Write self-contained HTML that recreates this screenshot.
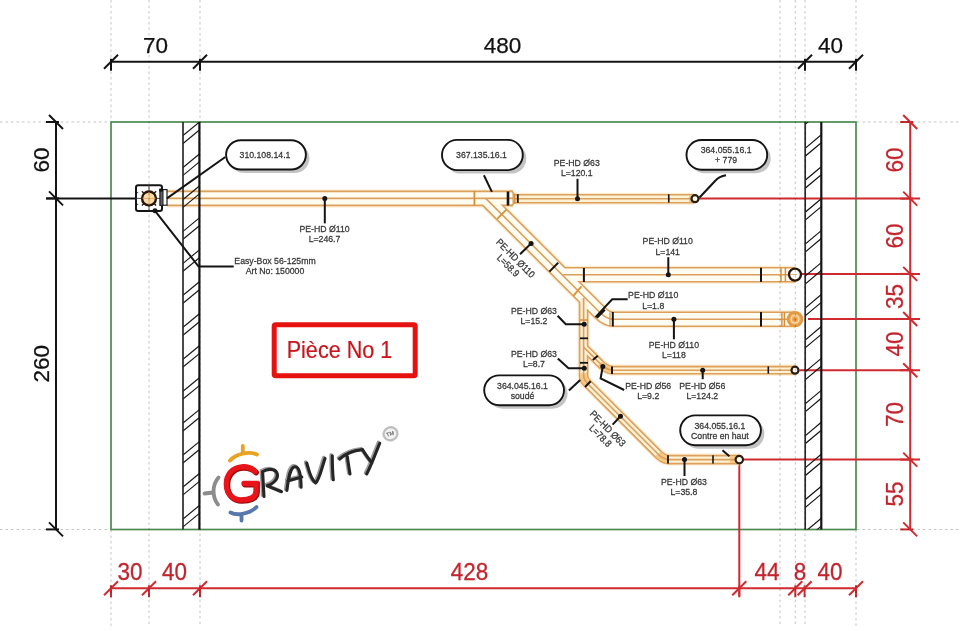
<!DOCTYPE html>
<html><head><meta charset="utf-8"><style>
html,body{margin:0;padding:0;background:#fff;width:960px;height:631px;overflow:hidden}
svg{display:block;will-change:transform;font-family:"Liberation Sans",sans-serif}
</style></head><body>
<svg width="960" height="631" viewBox="0 0 960 631">
<rect x="111" y="122" width="745" height="407.5" fill="none" stroke="#4a8a50" stroke-width="1.7"/>
<line x1="111" y1="61.7" x2="856" y2="61.7" stroke="#141414" stroke-width="2"/>
<line x1="104" y1="68.7" x2="118" y2="54.7" stroke="#141414" stroke-width="2"/>
<line x1="111" y1="58.7" x2="111" y2="70.7" stroke="#141414" stroke-width="2"/>
<line x1="193" y1="68.7" x2="207" y2="54.7" stroke="#141414" stroke-width="2"/>
<line x1="200" y1="58.7" x2="200" y2="70.7" stroke="#141414" stroke-width="2"/>
<line x1="798" y1="68.7" x2="812" y2="54.7" stroke="#141414" stroke-width="2"/>
<line x1="805" y1="58.7" x2="805" y2="70.7" stroke="#141414" stroke-width="2"/>
<line x1="849" y1="68.7" x2="863" y2="54.7" stroke="#141414" stroke-width="2"/>
<line x1="856" y1="58.7" x2="856" y2="70.7" stroke="#141414" stroke-width="2"/>
<text transform="translate(155.5,53.3) scale(1,1.0)" font-size="22.5" fill="#111" stroke="#111" stroke-width="0.25" text-anchor="middle">70</text>
<text transform="translate(502.5,53.3) scale(1,1.0)" font-size="22.5" fill="#111" stroke="#111" stroke-width="0.25" text-anchor="middle">480</text>
<text transform="translate(830.5,53.3) scale(1,1.0)" font-size="22.5" fill="#111" stroke="#111" stroke-width="0.25" text-anchor="middle">40</text>
<line x1="56" y1="122" x2="56" y2="529.4" stroke="#141414" stroke-width="2"/>
<line x1="49" y1="115" x2="63" y2="129" stroke="#141414" stroke-width="2"/>
<line x1="46" y1="122" x2="59" y2="122" stroke="#141414" stroke-width="2"/>
<line x1="49" y1="191.4" x2="63" y2="205.4" stroke="#141414" stroke-width="2"/>
<line x1="46" y1="198.4" x2="59" y2="198.4" stroke="#141414" stroke-width="2"/>
<line x1="49" y1="522.4" x2="63" y2="536.4" stroke="#141414" stroke-width="2"/>
<line x1="46" y1="529.4" x2="59" y2="529.4" stroke="#141414" stroke-width="2"/>
<text transform="translate(49.3,160) rotate(-90) scale(1,1.0)" font-size="22.5" fill="#111" stroke="#111" stroke-width="0.25" text-anchor="middle">60</text>
<text transform="translate(49.3,363.7) rotate(-90) scale(1,1.0)" font-size="22.5" fill="#111" stroke="#111" stroke-width="0.25" text-anchor="middle">260</text>
<line x1="46" y1="198.4" x2="135" y2="198.4" stroke="#141414" stroke-width="2"/>
<line x1="910.2" y1="122" x2="910.2" y2="529.4" stroke="#d02a31" stroke-width="2"/>
<line x1="903.2" y1="115" x2="917.2" y2="129" stroke="#d02a31" stroke-width="2"/>
<line x1="900.2" y1="122" x2="913.2" y2="122" stroke="#d02a31" stroke-width="2"/>
<line x1="903.2" y1="191.6" x2="917.2" y2="205.6" stroke="#d02a31" stroke-width="2"/>
<line x1="900.2" y1="198.6" x2="913.2" y2="198.6" stroke="#d02a31" stroke-width="2"/>
<line x1="903.2" y1="266.9" x2="917.2" y2="280.9" stroke="#d02a31" stroke-width="2"/>
<line x1="900.2" y1="273.9" x2="913.2" y2="273.9" stroke="#d02a31" stroke-width="2"/>
<line x1="903.2" y1="312" x2="917.2" y2="326" stroke="#d02a31" stroke-width="2"/>
<line x1="900.2" y1="319" x2="913.2" y2="319" stroke="#d02a31" stroke-width="2"/>
<line x1="903.2" y1="363.2" x2="917.2" y2="377.2" stroke="#d02a31" stroke-width="2"/>
<line x1="900.2" y1="370.2" x2="913.2" y2="370.2" stroke="#d02a31" stroke-width="2"/>
<line x1="903.2" y1="452.6" x2="917.2" y2="466.6" stroke="#d02a31" stroke-width="2"/>
<line x1="900.2" y1="459.6" x2="913.2" y2="459.6" stroke="#d02a31" stroke-width="2"/>
<line x1="903.2" y1="522.4" x2="917.2" y2="536.4" stroke="#d02a31" stroke-width="2"/>
<line x1="900.2" y1="529.4" x2="913.2" y2="529.4" stroke="#d02a31" stroke-width="2"/>
<text transform="translate(903,160) rotate(-90) scale(1,1.03)" font-size="22.5" fill="#c2242d" stroke="#c2242d" stroke-width="0.25" text-anchor="middle">60</text>
<text transform="translate(903,236) rotate(-90) scale(1,1.03)" font-size="22.5" fill="#c2242d" stroke="#c2242d" stroke-width="0.25" text-anchor="middle">60</text>
<text transform="translate(903,296.5) rotate(-90) scale(1,1.03)" font-size="22.5" fill="#c2242d" stroke="#c2242d" stroke-width="0.25" text-anchor="middle">35</text>
<text transform="translate(903,344) rotate(-90) scale(1,1.03)" font-size="22.5" fill="#c2242d" stroke="#c2242d" stroke-width="0.25" text-anchor="middle">40</text>
<text transform="translate(903,414.5) rotate(-90) scale(1,1.03)" font-size="22.5" fill="#c2242d" stroke="#c2242d" stroke-width="0.25" text-anchor="middle">70</text>
<text transform="translate(903,494) rotate(-90) scale(1,1.03)" font-size="22.5" fill="#c2242d" stroke="#c2242d" stroke-width="0.25" text-anchor="middle">55</text>
<line x1="111" y1="588.3" x2="856" y2="588.3" stroke="#d02a31" stroke-width="2"/>
<line x1="104" y1="595.3" x2="118" y2="581.3" stroke="#d02a31" stroke-width="2"/>
<line x1="111" y1="585.3" x2="111" y2="597.3" stroke="#d02a31" stroke-width="2"/>
<line x1="142" y1="595.3" x2="156" y2="581.3" stroke="#d02a31" stroke-width="2"/>
<line x1="149" y1="585.3" x2="149" y2="597.3" stroke="#d02a31" stroke-width="2"/>
<line x1="193" y1="595.3" x2="207" y2="581.3" stroke="#d02a31" stroke-width="2"/>
<line x1="200" y1="585.3" x2="200" y2="597.3" stroke="#d02a31" stroke-width="2"/>
<line x1="732.3" y1="595.3" x2="746.3" y2="581.3" stroke="#d02a31" stroke-width="2"/>
<line x1="739.3" y1="585.3" x2="739.3" y2="597.3" stroke="#d02a31" stroke-width="2"/>
<line x1="788.3" y1="595.3" x2="802.3" y2="581.3" stroke="#d02a31" stroke-width="2"/>
<line x1="795.3" y1="585.3" x2="795.3" y2="597.3" stroke="#d02a31" stroke-width="2"/>
<line x1="797.6" y1="595.3" x2="811.6" y2="581.3" stroke="#d02a31" stroke-width="2"/>
<line x1="804.6" y1="585.3" x2="804.6" y2="597.3" stroke="#d02a31" stroke-width="2"/>
<line x1="849" y1="595.3" x2="863" y2="581.3" stroke="#d02a31" stroke-width="2"/>
<line x1="856" y1="585.3" x2="856" y2="597.3" stroke="#d02a31" stroke-width="2"/>
<text transform="translate(130,580) scale(1,1.03)" font-size="22.5" fill="#c2242d" stroke="#c2242d" stroke-width="0.25" text-anchor="middle">30</text>
<text transform="translate(174.5,580) scale(1,1.03)" font-size="22.5" fill="#c2242d" stroke="#c2242d" stroke-width="0.25" text-anchor="middle">40</text>
<text transform="translate(469.5,580) scale(1,1.03)" font-size="22.5" fill="#c2242d" stroke="#c2242d" stroke-width="0.25" text-anchor="middle">428</text>
<text transform="translate(767,580) scale(1,1.03)" font-size="22.5" fill="#c2242d" stroke="#c2242d" stroke-width="0.25" text-anchor="middle">44</text>
<text transform="translate(800,580) scale(1,1.03)" font-size="22.5" fill="#c2242d" stroke="#c2242d" stroke-width="0.25" text-anchor="middle">8</text>
<text transform="translate(830,580) scale(1,1.03)" font-size="22.5" fill="#c2242d" stroke="#c2242d" stroke-width="0.25" text-anchor="middle">40</text>
<line x1="699" y1="198.6" x2="920" y2="198.6" stroke="#d02a31" stroke-width="2"/>
<line x1="802" y1="273.9" x2="920" y2="273.9" stroke="#d02a31" stroke-width="2"/>
<line x1="808" y1="319" x2="920" y2="319" stroke="#d02a31" stroke-width="2"/>
<line x1="799.5" y1="370.2" x2="920" y2="370.2" stroke="#d02a31" stroke-width="2"/>
<line x1="743.5" y1="459.6" x2="920" y2="459.6" stroke="#d02a31" stroke-width="2"/>
<line x1="739.3" y1="464" x2="739.3" y2="596" stroke="#d02a31" stroke-width="2"/>
<path d="M167,198.4 H513" fill="none" stroke="#fdecd2" stroke-width="18" stroke-linejoin="round"/>
<path d="M513,198.7 H694" fill="none" stroke="#fdecd2" stroke-width="12.0" stroke-linejoin="round"/>
<path d="M485.7,198.4 L599.8,312.5 Q606.5,319 613,319.2 H795" fill="none" stroke="#fdecd2" stroke-width="18" stroke-linejoin="round"/>
<path d="M562,274.8 H795" fill="none" stroke="#fdecd2" stroke-width="18" stroke-linejoin="round"/>
<path d="M583.6,298 V376 Q583.6,379.5 587,383 L657,453 Q662,458.6 668,459.6 H739.3" fill="none" stroke="#fdecd2" stroke-width="12.0" stroke-linejoin="round"/>
<path d="M583.6,347.1 L600,363.4 Q605,369 612,370.2 H795" fill="none" stroke="#fdecd2" stroke-width="11.2" stroke-linejoin="round"/>
<path d="M167,198.4 H513" fill="none" stroke="#daa05c" stroke-width="15.6" stroke-linejoin="round"/>
<path d="M513,198.7 H694" fill="none" stroke="#daa05c" stroke-width="9.6" stroke-linejoin="round"/>
<path d="M485.7,198.4 L599.8,312.5 Q606.5,319 613,319.2 H795" fill="none" stroke="#daa05c" stroke-width="15.6" stroke-linejoin="round"/>
<path d="M562,274.8 H795" fill="none" stroke="#daa05c" stroke-width="15.6" stroke-linejoin="round"/>
<path d="M583.6,298 V376 Q583.6,379.5 587,383 L657,453 Q662,458.6 668,459.6 H739.3" fill="none" stroke="#daa05c" stroke-width="9.6" stroke-linejoin="round"/>
<path d="M583.6,347.1 L600,363.4 Q605,369 612,370.2 H795" fill="none" stroke="#daa05c" stroke-width="8.8" stroke-linejoin="round"/>
<path d="M167,198.4 H513" fill="none" stroke="#fffcf1" stroke-width="12.4" stroke-linejoin="round"/>
<path d="M513,198.7 H694" fill="none" stroke="#fdf1d6" stroke-width="6.4" stroke-linejoin="round"/>
<path d="M485.7,198.4 L599.8,312.5 Q606.5,319 613,319.2 H795" fill="none" stroke="#fffcf1" stroke-width="12.4" stroke-linejoin="round"/>
<path d="M562,274.8 H795" fill="none" stroke="#fffcf1" stroke-width="12.4" stroke-linejoin="round"/>
<path d="M583.6,298 V376 Q583.6,379.5 587,383 L657,453 Q662,458.6 668,459.6 H739.3" fill="none" stroke="#fdf1d6" stroke-width="6.4" stroke-linejoin="round"/>
<path d="M583.6,347.1 L600,363.4 Q605,369 612,370.2 H795" fill="none" stroke="#fdf1d6" stroke-width="5.6" stroke-linejoin="round"/>
<path d="M583.6,373.2 V377 Q583.6,380 587,383.5 L588.5,385" fill="none" stroke="#f6c783" stroke-width="6.8" stroke-linejoin="round"/>
<path d="M657.9,454 Q662,458.6 668.3,459.6" fill="none" stroke="#f6c783" stroke-width="6.8" stroke-linejoin="round"/>
<path d="M600,363.4 Q605,369 612.4,370.2" fill="none" stroke="#f6c783" stroke-width="6.0" stroke-linejoin="round"/>
<path d="M689,198.7 H694" fill="none" stroke="#f6c783" stroke-width="6.8" stroke-linejoin="round"/>
<path d="M730,459.6 H737" fill="none" stroke="#f6c783" stroke-width="6.8" stroke-linejoin="round"/>
<path d="M167,198.4 H513" fill="none" stroke="#daa05c" stroke-width="1.6" stroke-linejoin="round"/>
<path d="M513,198.7 H694" fill="none" stroke="#daa05c" stroke-width="1.6" stroke-linejoin="round"/>
<path d="M485.7,198.4 L599.8,312.5 Q606.5,319 613,319.2 H795" fill="none" stroke="#daa05c" stroke-width="1.6" stroke-linejoin="round"/>
<path d="M562,274.8 H795" fill="none" stroke="#daa05c" stroke-width="1.6" stroke-linejoin="round"/>
<path d="M583.6,298 V376 Q583.6,379.5 587,383 L657,453 Q662,458.6 668,459.6 H739.3" fill="none" stroke="#daa05c" stroke-width="1.6" stroke-linejoin="round"/>
<path d="M583.6,347.1 L600,363.4 Q605,369 612,370.2 H795" fill="none" stroke="#daa05c" stroke-width="1.6" stroke-linejoin="round"/>
<line x1="508" y1="191.5" x2="508" y2="205.5" stroke="#141414" stroke-width="2.6"/>
<line x1="517.8" y1="194.2" x2="517.8" y2="202.8" stroke="#2a1a08" stroke-width="1.9"/>
<line x1="668.75" y1="194.3" x2="668.75" y2="202.5" stroke="#141414" stroke-width="1.6"/>
<line x1="549.4" y1="271.6" x2="558.2" y2="262.7" stroke="#141414" stroke-width="2"/>
<line x1="583.9" y1="268" x2="583.9" y2="282" stroke="#141414" stroke-width="2"/>
<line x1="761" y1="267.8" x2="761" y2="282" stroke="#141414" stroke-width="2"/>
<line x1="612.8" y1="312" x2="612.8" y2="326.4" stroke="#141414" stroke-width="2"/>
<line x1="761" y1="312" x2="761" y2="326.5" stroke="#141414" stroke-width="2"/>
<line x1="596.6" y1="317.5" x2="604.6" y2="309.5" stroke="#141414" stroke-width="3"/>
<line x1="580" y1="338.3" x2="588" y2="338.3" stroke="#141414" stroke-width="1.8"/>
<line x1="580" y1="362.8" x2="588" y2="362.8" stroke="#141414" stroke-width="1.8"/>
<line x1="585" y1="387" x2="590.7" y2="381.3" stroke="#141414" stroke-width="2"/>
<line x1="612" y1="366.4" x2="612" y2="374" stroke="#141414" stroke-width="2"/>
<line x1="768.3" y1="366.4" x2="768.3" y2="373.6" stroke="#141414" stroke-width="1.6"/>
<line x1="592.8" y1="360" x2="597.8" y2="355.7" stroke="#141414" stroke-width="2"/>
<line x1="668" y1="455.2" x2="668" y2="463.4" stroke="#141414" stroke-width="1.8"/>
<line x1="713" y1="455.2" x2="713" y2="463.4" stroke="#141414" stroke-width="1.6"/>
<line x1="474.4" y1="191" x2="474.4" y2="205.5" stroke="#d9903a" stroke-width="1.8"/>
<path d="M509.6,191.2 H511 Q513.3,191.2 513.3,194 V202.7 Q513.3,205.5 511,205.5 H509.6" fill="none" stroke="#daa05c" stroke-width="1.6"/>
<line x1="514.8" y1="193.6" x2="514.8" y2="203.8" stroke="#d9903a" stroke-width="1.5"/>
<line x1="497.2" y1="218.8" x2="506.6" y2="209.4" stroke="#d9903a" stroke-width="1.8"/>
<line x1="573.5" y1="295.6" x2="581.4" y2="286.4" stroke="#d9903a" stroke-width="1.8"/>
<line x1="781" y1="267.8" x2="781" y2="282" stroke="#d9903a" stroke-width="1.5"/>
<line x1="785.4" y1="267.8" x2="785.4" y2="282" stroke="#d9903a" stroke-width="1.5"/>
<line x1="781.9" y1="312" x2="781.9" y2="326.4" stroke="#d9903a" stroke-width="1.5"/>
<line x1="784.4" y1="312" x2="784.4" y2="326.4" stroke="#d9903a" stroke-width="1.5"/>
<line x1="580" y1="320" x2="588" y2="320" stroke="#d9903a" stroke-width="1.5"/>
<line x1="610" y1="312.2" x2="610" y2="326.2" stroke="#d9903a" stroke-width="1.2"/>
<circle cx="695" cy="198.7" r="3.5" fill="#fffcf1" stroke="#2a1d10" stroke-width="2.2"/>
<circle cx="795" cy="274.6" r="6" fill="#fffdf8" stroke="#24160a" stroke-width="2.3"/>
<line x1="790" y1="274.5" x2="797" y2="274.5" stroke="#daa05c" stroke-width="0.8"/>
<circle cx="795" cy="319.2" r="7" fill="#f0b060" stroke="#e39a45" stroke-width="2.6"/>
<circle cx="795" cy="319.2" r="4" fill="none" stroke="#fde6c4" stroke-width="1"/>
<circle cx="795" cy="319.2" r="1.6" fill="#e08a30"/>
<circle cx="795" cy="370.2" r="3.5" fill="#fffcf1" stroke="#2a1d10" stroke-width="2.2"/>
<circle cx="739.3" cy="459.6" r="3.7" fill="#fffcf1" stroke="#2a1d10" stroke-width="2.2"/>
<g>
<clipPath id="cw183"><rect x="183" y="122" width="16.400000000000006" height="407.5"/></clipPath>
<g clip-path="url(#cw183)">
<line x1="183" y1="-56.1" x2="199.4" y2="-69.6" stroke="#141414" stroke-width="1.15"/>
<line x1="183" y1="-48.2" x2="199.4" y2="-61.7" stroke="#141414" stroke-width="1.15"/>
<line x1="183" y1="-24.1" x2="199.4" y2="-37.6" stroke="#141414" stroke-width="1.15"/>
<line x1="183" y1="-16.2" x2="199.4" y2="-29.7" stroke="#141414" stroke-width="1.15"/>
<line x1="183" y1="7.8" x2="199.4" y2="-5.7" stroke="#141414" stroke-width="1.15"/>
<line x1="183" y1="15.7" x2="199.4" y2="2.2" stroke="#141414" stroke-width="1.15"/>
<line x1="183" y1="39.8" x2="199.4" y2="26.2" stroke="#141414" stroke-width="1.15"/>
<line x1="183" y1="47.6" x2="199.4" y2="34.1" stroke="#141414" stroke-width="1.15"/>
<line x1="183" y1="71.7" x2="199.4" y2="58.2" stroke="#141414" stroke-width="1.15"/>
<line x1="183" y1="79.6" x2="199.4" y2="66.1" stroke="#141414" stroke-width="1.15"/>
<line x1="183" y1="103.7" x2="199.4" y2="90.2" stroke="#141414" stroke-width="1.15"/>
<line x1="183" y1="111.6" x2="199.4" y2="98.1" stroke="#141414" stroke-width="1.15"/>
<line x1="183" y1="135.6" x2="199.4" y2="122.1" stroke="#141414" stroke-width="1.15"/>
<line x1="183" y1="143.5" x2="199.4" y2="130.0" stroke="#141414" stroke-width="1.15"/>
<line x1="183" y1="167.5" x2="199.4" y2="154.0" stroke="#141414" stroke-width="1.15"/>
<line x1="183" y1="175.4" x2="199.4" y2="161.9" stroke="#141414" stroke-width="1.15"/>
<line x1="183" y1="199.5" x2="199.4" y2="186.0" stroke="#141414" stroke-width="1.15"/>
<line x1="183" y1="207.4" x2="199.4" y2="193.9" stroke="#141414" stroke-width="1.15"/>
<line x1="183" y1="231.4" x2="199.4" y2="217.9" stroke="#141414" stroke-width="1.15"/>
<line x1="183" y1="239.3" x2="199.4" y2="225.8" stroke="#141414" stroke-width="1.15"/>
<line x1="183" y1="263.4" x2="199.4" y2="249.9" stroke="#141414" stroke-width="1.15"/>
<line x1="183" y1="271.3" x2="199.4" y2="257.8" stroke="#141414" stroke-width="1.15"/>
<line x1="183" y1="295.3" x2="199.4" y2="281.8" stroke="#141414" stroke-width="1.15"/>
<line x1="183" y1="303.2" x2="199.4" y2="289.7" stroke="#141414" stroke-width="1.15"/>
<line x1="183" y1="327.3" x2="199.4" y2="313.8" stroke="#141414" stroke-width="1.15"/>
<line x1="183" y1="335.2" x2="199.4" y2="321.7" stroke="#141414" stroke-width="1.15"/>
<line x1="183" y1="359.2" x2="199.4" y2="345.7" stroke="#141414" stroke-width="1.15"/>
<line x1="183" y1="367.1" x2="199.4" y2="353.6" stroke="#141414" stroke-width="1.15"/>
<line x1="183" y1="391.2" x2="199.4" y2="377.7" stroke="#141414" stroke-width="1.15"/>
<line x1="183" y1="399.1" x2="199.4" y2="385.6" stroke="#141414" stroke-width="1.15"/>
<line x1="183" y1="423.1" x2="199.4" y2="409.6" stroke="#141414" stroke-width="1.15"/>
<line x1="183" y1="431.0" x2="199.4" y2="417.5" stroke="#141414" stroke-width="1.15"/>
<line x1="183" y1="455.1" x2="199.4" y2="441.6" stroke="#141414" stroke-width="1.15"/>
<line x1="183" y1="463.0" x2="199.4" y2="449.5" stroke="#141414" stroke-width="1.15"/>
<line x1="183" y1="487.0" x2="199.4" y2="473.5" stroke="#141414" stroke-width="1.15"/>
<line x1="183" y1="494.9" x2="199.4" y2="481.4" stroke="#141414" stroke-width="1.15"/>
<line x1="183" y1="519.0" x2="199.4" y2="505.5" stroke="#141414" stroke-width="1.15"/>
<line x1="183" y1="526.9" x2="199.4" y2="513.4" stroke="#141414" stroke-width="1.15"/>
<line x1="183" y1="550.9" x2="199.4" y2="537.4" stroke="#141414" stroke-width="1.15"/>
<line x1="183" y1="558.8" x2="199.4" y2="545.3" stroke="#141414" stroke-width="1.15"/>
</g>
<line x1="183" y1="122" x2="183" y2="529.5" stroke="#2a2a2a" stroke-width="1.7"/>
<line x1="199.4" y1="122" x2="199.4" y2="529.5" stroke="#141414" stroke-width="2.2"/>
</g>
<g>
<clipPath id="cw805"><rect x="805.2" y="122" width="16.09999999999991" height="407.5"/></clipPath>
<g clip-path="url(#cw805)">
<line x1="805.2" y1="-43.4" x2="821.3" y2="-56.9" stroke="#141414" stroke-width="1.15"/>
<line x1="805.2" y1="-35.5" x2="821.3" y2="-49.0" stroke="#141414" stroke-width="1.15"/>
<line x1="805.2" y1="-11.4" x2="821.3" y2="-24.9" stroke="#141414" stroke-width="1.15"/>
<line x1="805.2" y1="-3.5" x2="821.3" y2="-17.0" stroke="#141414" stroke-width="1.15"/>
<line x1="805.2" y1="20.5" x2="821.3" y2="7.0" stroke="#141414" stroke-width="1.15"/>
<line x1="805.2" y1="28.4" x2="821.3" y2="14.9" stroke="#141414" stroke-width="1.15"/>
<line x1="805.2" y1="52.5" x2="821.3" y2="39.0" stroke="#141414" stroke-width="1.15"/>
<line x1="805.2" y1="60.4" x2="821.3" y2="46.9" stroke="#141414" stroke-width="1.15"/>
<line x1="805.2" y1="84.4" x2="821.3" y2="70.9" stroke="#141414" stroke-width="1.15"/>
<line x1="805.2" y1="92.3" x2="821.3" y2="78.8" stroke="#141414" stroke-width="1.15"/>
<line x1="805.2" y1="116.4" x2="821.3" y2="102.9" stroke="#141414" stroke-width="1.15"/>
<line x1="805.2" y1="124.3" x2="821.3" y2="110.8" stroke="#141414" stroke-width="1.15"/>
<line x1="805.2" y1="148.3" x2="821.3" y2="134.8" stroke="#141414" stroke-width="1.15"/>
<line x1="805.2" y1="156.2" x2="821.3" y2="142.7" stroke="#141414" stroke-width="1.15"/>
<line x1="805.2" y1="180.2" x2="821.3" y2="166.8" stroke="#141414" stroke-width="1.15"/>
<line x1="805.2" y1="188.2" x2="821.3" y2="174.7" stroke="#141414" stroke-width="1.15"/>
<line x1="805.2" y1="212.2" x2="821.3" y2="198.7" stroke="#141414" stroke-width="1.15"/>
<line x1="805.2" y1="220.1" x2="821.3" y2="206.6" stroke="#141414" stroke-width="1.15"/>
<line x1="805.2" y1="244.1" x2="821.3" y2="230.6" stroke="#141414" stroke-width="1.15"/>
<line x1="805.2" y1="252.0" x2="821.3" y2="238.5" stroke="#141414" stroke-width="1.15"/>
<line x1="805.2" y1="276.1" x2="821.3" y2="262.6" stroke="#141414" stroke-width="1.15"/>
<line x1="805.2" y1="284.0" x2="821.3" y2="270.5" stroke="#141414" stroke-width="1.15"/>
<line x1="805.2" y1="308.0" x2="821.3" y2="294.5" stroke="#141414" stroke-width="1.15"/>
<line x1="805.2" y1="315.9" x2="821.3" y2="302.4" stroke="#141414" stroke-width="1.15"/>
<line x1="805.2" y1="340.0" x2="821.3" y2="326.5" stroke="#141414" stroke-width="1.15"/>
<line x1="805.2" y1="347.9" x2="821.3" y2="334.4" stroke="#141414" stroke-width="1.15"/>
<line x1="805.2" y1="371.9" x2="821.3" y2="358.4" stroke="#141414" stroke-width="1.15"/>
<line x1="805.2" y1="379.8" x2="821.3" y2="366.3" stroke="#141414" stroke-width="1.15"/>
<line x1="805.2" y1="403.9" x2="821.3" y2="390.4" stroke="#141414" stroke-width="1.15"/>
<line x1="805.2" y1="411.8" x2="821.3" y2="398.3" stroke="#141414" stroke-width="1.15"/>
<line x1="805.2" y1="435.8" x2="821.3" y2="422.3" stroke="#141414" stroke-width="1.15"/>
<line x1="805.2" y1="443.7" x2="821.3" y2="430.2" stroke="#141414" stroke-width="1.15"/>
<line x1="805.2" y1="467.8" x2="821.3" y2="454.3" stroke="#141414" stroke-width="1.15"/>
<line x1="805.2" y1="475.7" x2="821.3" y2="462.2" stroke="#141414" stroke-width="1.15"/>
<line x1="805.2" y1="499.7" x2="821.3" y2="486.2" stroke="#141414" stroke-width="1.15"/>
<line x1="805.2" y1="507.6" x2="821.3" y2="494.1" stroke="#141414" stroke-width="1.15"/>
<line x1="805.2" y1="531.7" x2="821.3" y2="518.2" stroke="#141414" stroke-width="1.15"/>
<line x1="805.2" y1="539.6" x2="821.3" y2="526.1" stroke="#141414" stroke-width="1.15"/>
</g>
<line x1="805.2" y1="122" x2="805.2" y2="529.5" stroke="#2a2a2a" stroke-width="1.7"/>
<line x1="821.3" y1="122" x2="821.3" y2="529.5" stroke="#141414" stroke-width="2.2"/>
</g>
<rect x="136" y="185.2" width="26" height="25.8" rx="2.2" fill="#fff" stroke="#141414" stroke-width="2"/>
<line x1="149" y1="185" x2="149" y2="211" stroke="#333" stroke-width="0.9"/>
<line x1="136" y1="198.4" x2="160" y2="198.4" stroke="#333" stroke-width="0.9"/>
<line x1="153.95" y1="203.35" x2="156.07" y2="205.47" stroke="#2a1a0a" stroke-width="1.4"/>
<line x1="144.05" y1="203.35" x2="141.93" y2="205.47" stroke="#2a1a0a" stroke-width="1.4"/>
<line x1="144.05" y1="193.45" x2="141.93" y2="191.33" stroke="#2a1a0a" stroke-width="1.4"/>
<line x1="153.95" y1="193.45" x2="156.07" y2="191.33" stroke="#2a1a0a" stroke-width="1.4"/>
<line x1="137" y1="192.7" x2="138.2" y2="192.7" stroke="#333" stroke-width="1"/>
<line x1="137" y1="204.3" x2="138.2" y2="204.3" stroke="#333" stroke-width="1"/>
<circle cx="149" cy="198.4" r="6.9" fill="#fcdcab" stroke="#2a1508" stroke-width="2.4"/>
<line x1="149" y1="192" x2="149" y2="205" stroke="#eaa55a" stroke-width="0.9"/>
<line x1="142.5" y1="198.4" x2="155.5" y2="198.4" stroke="#eaa55a" stroke-width="0.9"/>
<rect x="160.2" y="189.6" width="6.8" height="15.6" fill="#fff" stroke="#141414" stroke-width="1.15"/>
<rect x="160" y="189.4" width="3" height="16" fill="#5d6270" stroke="#1a1a1a" stroke-width="1"/>
<rect x="159.3" y="188.6" width="3.6" height="3" fill="#111"/>
<polyline points="324.8,198.4 324.8,223.4" fill="none" stroke="#141414" stroke-width="2"/>
<circle cx="324.8" cy="198.4" r="2.5" fill="#141414"/>
<polyline points="577.5,198.7 577.5,178.8" fill="none" stroke="#141414" stroke-width="2"/>
<circle cx="577.5" cy="198.7" r="2.5" fill="#141414"/>
<polyline points="531.1,243.5 520,254.2" fill="none" stroke="#141414" stroke-width="2"/>
<circle cx="531.1" cy="243.5" r="2.5" fill="#141414"/>
<polyline points="668.3,274.8 668.3,257.2" fill="none" stroke="#141414" stroke-width="2"/>
<circle cx="668.3" cy="274.8" r="2.5" fill="#141414"/>
<polyline points="673.9,319.3 673.9,339.3" fill="none" stroke="#141414" stroke-width="2"/>
<circle cx="673.9" cy="319.3" r="2.5" fill="#141414"/>
<polyline points="584.2,324.2 565.8,324.2 557.6,315.8" fill="none" stroke="#141414" stroke-width="2"/>
<circle cx="584.2" cy="324.2" r="2.5" fill="#141414"/>
<polyline points="584.3,368.3 568.5,368.3 557.8,358.5" fill="none" stroke="#141414" stroke-width="2"/>
<circle cx="584.3" cy="368.3" r="2.5" fill="#141414"/>
<polyline points="602.8,366.4 600.6,378.5 624.2,390" fill="none" stroke="#141414" stroke-width="2"/>
<circle cx="602.8" cy="366.4" r="2.5" fill="#141414"/>
<polyline points="620.5,416.2 612.6,424.6" fill="none" stroke="#141414" stroke-width="2"/>
<circle cx="620.5" cy="416.2" r="2.5" fill="#141414"/>
<polyline points="684.5,459.6 684.5,476" fill="none" stroke="#141414" stroke-width="2"/>
<circle cx="684.5" cy="459.6" r="2.5" fill="#141414"/>
<polyline points="702.7,370.2 702.7,379.2" fill="none" stroke="#141414" stroke-width="2"/>
<circle cx="702.7" cy="370.2" r="2.5" fill="#141414"/>
<polyline points="155,210.8 198.6,266.5 233.7,266.5" fill="none" stroke="#141414" stroke-width="2"/>
<circle cx="155" cy="210.8" r="2.5" fill="#141414"/>
<polyline points="595.5,317.1 612.2,299.3 627.7,299.3" fill="none" stroke="#141414" stroke-width="2"/>
<polyline points="225.3,157 166.9,198.4" fill="none" stroke="#141414" stroke-width="2"/>
<polyline points="483.9,175.3 491.9,191.9" fill="none" stroke="#141414" stroke-width="2"/>
<path d="M726,175.2 Q719,176.5 716,180 L699.5,197.5" fill="none" stroke="#141414" stroke-width="2"/>
<polyline points="568.9,390.6 580.2,380" fill="none" stroke="#141414" stroke-width="2"/>
<polyline points="722.5,450.3 729.4,456.2" fill="none" stroke="#141414" stroke-width="2"/>
<rect x="229.60000000000002" y="143.70000000000002" width="79.79999999999995" height="29.299999999999983" rx="14.649999999999991" fill="#c4c4c4"/>
<rect x="226.10000000000002" y="140.20000000000002" width="79.79999999999995" height="29.299999999999983" rx="14.649999999999991" fill="#fff" stroke="#141414" stroke-width="1.9"/>
<text transform="translate(265,158.1) scale(0.97,1.09)" font-size="9" fill="#363636" stroke="#363636" stroke-width="0.25" text-anchor="middle">310.108.14.1</text>
<rect x="445.5" y="143.4" width="80.80000000000007" height="30.19999999999999" rx="15.099999999999994" fill="#c4c4c4"/>
<rect x="442.0" y="139.9" width="80.80000000000007" height="30.19999999999999" rx="15.099999999999994" fill="#fff" stroke="#141414" stroke-width="1.9"/>
<text transform="translate(481.5,158.4) scale(0.97,1.09)" font-size="9" fill="#363636" stroke="#363636" stroke-width="0.25" text-anchor="middle">367.135.16.1</text>
<rect x="690.0" y="143.5" width="80.70000000000005" height="29.799999999999983" rx="14.899999999999991" fill="#c4c4c4"/>
<rect x="686.5" y="140.0" width="80.70000000000005" height="29.799999999999983" rx="14.899999999999991" fill="#fff" stroke="#141414" stroke-width="1.9"/>
<text transform="translate(726.1,152.9) scale(0.97,1.09)" font-size="9" fill="#363636" stroke="#363636" stroke-width="0.25" text-anchor="middle">364.055.16.1</text>
<text transform="translate(726.1,163.1) scale(0.97,1.09)" font-size="9" fill="#363636" stroke="#363636" stroke-width="0.25" text-anchor="middle">+ 779</text>
<rect x="487.7" y="378.90000000000003" width="79.80000000000001" height="29.799999999999955" rx="14.899999999999977" fill="#c4c4c4"/>
<rect x="484.2" y="375.40000000000003" width="79.80000000000001" height="29.799999999999955" rx="14.899999999999977" fill="#fff" stroke="#141414" stroke-width="1.9"/>
<text transform="translate(522.5,388.6) scale(0.97,1.09)" font-size="9" fill="#363636" stroke="#363636" stroke-width="0.25" text-anchor="middle">364.045.16.1</text>
<text transform="translate(522.5,399) scale(0.97,1.09)" font-size="9" fill="#363636" stroke="#363636" stroke-width="0.25" text-anchor="middle">soudé</text>
<rect x="683.6999999999999" y="418.90000000000003" width="80.70000000000016" height="29.899999999999977" rx="14.949999999999989" fill="#c4c4c4"/>
<rect x="680.1999999999999" y="415.40000000000003" width="80.70000000000016" height="29.899999999999977" rx="14.949999999999989" fill="#fff" stroke="#141414" stroke-width="1.9"/>
<text transform="translate(719.9,428.5) scale(0.97,1.09)" font-size="9" fill="#363636" stroke="#363636" stroke-width="0.25" text-anchor="middle">364.055.16.1</text>
<text transform="translate(719.9,438.8) scale(0.97,1.09)" font-size="9" fill="#363636" stroke="#363636" stroke-width="0.25" text-anchor="middle">Contre en haut</text>
<text transform="translate(324.5,232.0) scale(0.97,1.09)" font-size="9" fill="#363636" stroke="#363636" stroke-width="0.25" text-anchor="middle">PE-HD Ø110</text>
<text transform="translate(324.5,242.4) scale(0.97,1.09)" font-size="9" fill="#363636" stroke="#363636" stroke-width="0.25" text-anchor="middle">L=246.7</text>
<text transform="translate(576.75,165.75) scale(0.97,1.09)" font-size="9" fill="#363636" stroke="#363636" stroke-width="0.25" text-anchor="middle">PE-HD Ø63</text>
<text transform="translate(576.75,176.15) scale(0.97,1.09)" font-size="9" fill="#363636" stroke="#363636" stroke-width="0.25" text-anchor="middle">L=120.1</text>
<text transform="translate(667.7,244.25) scale(0.97,1.09)" font-size="9" fill="#363636" stroke="#363636" stroke-width="0.25" text-anchor="middle">PE-HD Ø110</text>
<text transform="translate(667.7,254.65) scale(0.97,1.09)" font-size="9" fill="#363636" stroke="#363636" stroke-width="0.25" text-anchor="middle">L=141</text>
<text transform="translate(653.2,298.2) scale(0.97,1.09)" font-size="9" fill="#363636" stroke="#363636" stroke-width="0.25" text-anchor="middle">PE-HD Ø110</text>
<text transform="translate(653.2,308.59999999999997) scale(0.97,1.09)" font-size="9" fill="#363636" stroke="#363636" stroke-width="0.25" text-anchor="middle">L=1.8</text>
<text transform="translate(673.9,348.0) scale(0.97,1.09)" font-size="9" fill="#363636" stroke="#363636" stroke-width="0.25" text-anchor="middle">PE-HD Ø110</text>
<text transform="translate(673.9,358.4) scale(0.97,1.09)" font-size="9" fill="#363636" stroke="#363636" stroke-width="0.25" text-anchor="middle">L=118</text>
<text transform="translate(533.9,313.9) scale(0.97,1.09)" font-size="9" fill="#363636" stroke="#363636" stroke-width="0.25" text-anchor="middle">PE-HD Ø63</text>
<text transform="translate(533.9,324.29999999999995) scale(0.97,1.09)" font-size="9" fill="#363636" stroke="#363636" stroke-width="0.25" text-anchor="middle">L=15.2</text>
<text transform="translate(533.9,356.8) scale(0.97,1.09)" font-size="9" fill="#363636" stroke="#363636" stroke-width="0.25" text-anchor="middle">PE-HD Ø63</text>
<text transform="translate(533.9,367.2) scale(0.97,1.09)" font-size="9" fill="#363636" stroke="#363636" stroke-width="0.25" text-anchor="middle">L=8.7</text>
<text transform="translate(648.2,388.8) scale(0.97,1.09)" font-size="9" fill="#363636" stroke="#363636" stroke-width="0.25" text-anchor="middle">PE-HD Ø56</text>
<text transform="translate(648.2,399.2) scale(0.97,1.09)" font-size="9" fill="#363636" stroke="#363636" stroke-width="0.25" text-anchor="middle">L=9.2</text>
<text transform="translate(702.3,388.8) scale(0.97,1.09)" font-size="9" fill="#363636" stroke="#363636" stroke-width="0.25" text-anchor="middle">PE-HD Ø56</text>
<text transform="translate(702.3,399.2) scale(0.97,1.09)" font-size="9" fill="#363636" stroke="#363636" stroke-width="0.25" text-anchor="middle">L=124.2</text>
<text transform="translate(683.9,484.7) scale(0.97,1.09)" font-size="9" fill="#363636" stroke="#363636" stroke-width="0.25" text-anchor="middle">PE-HD Ø63</text>
<text transform="translate(683.9,495.09999999999997) scale(0.97,1.09)" font-size="9" fill="#363636" stroke="#363636" stroke-width="0.25" text-anchor="middle">L=35.8</text>
<text transform="translate(275,263.8) scale(0.97,1.09)" font-size="9" fill="#363636" stroke="#363636" stroke-width="0.25" text-anchor="middle">Easy-Box 56-125mm</text>
<text transform="translate(275,274.2) scale(0.97,1.09)" font-size="9" fill="#363636" stroke="#363636" stroke-width="0.25" text-anchor="middle">Art No: 150000</text>
<g transform="translate(515.5,258.3) rotate(45)">
<text transform="translate(0,3.25) scale(0.97,1.09)" font-size="9" fill="#363636" stroke="#363636" stroke-width="0.25" text-anchor="middle">PE-HD Ø110</text>
<text transform="translate(0,13.65) scale(0.97,1.09)" font-size="9" fill="#363636" stroke="#363636" stroke-width="0.25" text-anchor="middle">L=58.9</text>
</g>
<g transform="translate(607.75,428.55) rotate(45)">
<text transform="translate(0,3.25) scale(0.97,1.09)" font-size="9" fill="#363636" stroke="#363636" stroke-width="0.25" text-anchor="middle">PE-HD Ø63</text>
<text transform="translate(0,13.65) scale(0.97,1.09)" font-size="9" fill="#363636" stroke="#363636" stroke-width="0.25" text-anchor="middle">L=78.8</text>
</g>
<rect x="274.2" y="324.8" width="141" height="51" rx="1.5" fill="none" stroke="#e5120f" stroke-width="5"/>
<text transform="translate(339.5,357.8) scale(0.92,1)" font-size="23.5" fill="#c8141c" stroke="#c8141c" stroke-width="0.2" text-anchor="middle">Pièce No 1</text>
<g stroke-linecap="round" fill="none">
<path d="M255,471.5 C251,467 246.5,466.5 241.5,466.8 C232,467.5 226.3,475 226.3,484 C226.3,494 232.5,499.8 241,499.8 C248,499.8 256,498 256,491 L256,483.5 L244,483.5" stroke="#9a0a0a" stroke-width="5.8" transform="translate(1,1)"/>
<path d="M255,471.5 C251,467 246.5,466.5 241.5,466.8 C232,467.5 226.3,475 226.3,484 C226.3,494 232.5,499.8 241,499.8 C248,499.8 256,498 256,491 L256,483.5 L244,483.5" stroke="#e8141a" stroke-width="5.3"/>
<path d="M230,460.5 C236,453.5 249,451 257,454.5 M242.8,446 L242.8,452" stroke="#e8a224" stroke-width="3.8"/>
<path d="M230.5,512.5 C237,516 250,514 256.5,507 M241.5,515 L241.5,520.5" stroke="#5877ad" stroke-width="3.8"/>
<path d="M218.5,477.5 C212,485 212,497 218,504.5 M213,492.5 L204.5,493.5" stroke="#8c8c8c" stroke-width="3.8"/>
<path d="M264,496.5 L262.6,471.7 C266,469.5 270,469 273,469.8 C278,471 279,477 275,481 C272,484 268,485.5 266.5,485.6 L281.5,491.7 M286.9,490.4 C288.5,478 290,467 295,466.8 C300,466.6 301,478 301.1,487.3 M287.8,480.9 L301.8,477.1 M306.8,463.1 C309,471 311,480 315.6,482.9 C319,481 322,467 325,458.4 M332.3,455.8 C332.3,463 332.5,472 333.3,479.8 M339.6,459 C346,453 354,450.5 362.5,449.6 M347.4,456.9 C348,462 349,468 350,474 M362.5,449.6 C365,454 368,458 371.9,463.1 M379.7,443.3 C376,452 372,464 366.7,474" stroke="#9c9c9c" stroke-width="3.4" transform="translate(-1.3,-1)"/>
<path d="M264,496.5 L262.6,471.7 C266,469.5 270,469 273,469.8 C278,471 279,477 275,481 C272,484 268,485.5 266.5,485.6 L281.5,491.7 M286.9,490.4 C288.5,478 290,467 295,466.8 C300,466.6 301,478 301.1,487.3 M287.8,480.9 L301.8,477.1 M306.8,463.1 C309,471 311,480 315.6,482.9 C319,481 322,467 325,458.4 M332.3,455.8 C332.3,463 332.5,472 333.3,479.8 M339.6,459 C346,453 354,450.5 362.5,449.6 M347.4,456.9 C348,462 349,468 350,474 M362.5,449.6 C365,454 368,458 371.9,463.1 M379.7,443.3 C376,452 372,464 366.7,474" stroke="#262626" stroke-width="3.1"/>
<ellipse cx="390.5" cy="433.8" rx="7" ry="6.5" fill="#f2f2f2" stroke="#bdbdbd" stroke-width="2.2" transform="rotate(-20 390.5 433.8)"/>
<text transform="translate(390.5,435.6) rotate(-15)" font-size="5.5" font-weight="bold" fill="#666" text-anchor="middle" stroke="none">TM</text>
</g>
<line x1="149" y1="0" x2="149" y2="626" stroke="#c4c4c4" stroke-width="1" stroke-dasharray="2.5 3" style="mix-blend-mode:multiply"/>
<line x1="200" y1="0" x2="200" y2="626" stroke="#c4c4c4" stroke-width="1" stroke-dasharray="2.5 3" style="mix-blend-mode:multiply"/>
<line x1="780" y1="0" x2="780" y2="626" stroke="#c4c4c4" stroke-width="1" stroke-dasharray="2.5 3" style="mix-blend-mode:multiply"/>
<line x1="795.3" y1="0" x2="795.3" y2="626" stroke="#c4c4c4" stroke-width="1" stroke-dasharray="2.5 3" style="mix-blend-mode:multiply"/>
<line x1="805" y1="0" x2="805" y2="626" stroke="#c4c4c4" stroke-width="1" stroke-dasharray="2.5 3" style="mix-blend-mode:multiply"/>
<line x1="111" y1="0" x2="111" y2="121" stroke="#c4c4c4" stroke-width="1" stroke-dasharray="2.5 3" style="mix-blend-mode:multiply"/>
<line x1="111" y1="530" x2="111" y2="626" stroke="#c4c4c4" stroke-width="1" stroke-dasharray="2.5 3" style="mix-blend-mode:multiply"/>
<line x1="856" y1="0" x2="856" y2="121" stroke="#c4c4c4" stroke-width="1" stroke-dasharray="2.5 3" style="mix-blend-mode:multiply"/>
<line x1="856" y1="530" x2="856" y2="626" stroke="#c4c4c4" stroke-width="1" stroke-dasharray="2.5 3" style="mix-blend-mode:multiply"/>
<line x1="0" y1="122" x2="110" y2="122" stroke="#c4c4c4" stroke-width="1" stroke-dasharray="2.5 3" style="mix-blend-mode:multiply"/>
<line x1="857" y1="122" x2="960" y2="122" stroke="#c4c4c4" stroke-width="1" stroke-dasharray="2.5 3" style="mix-blend-mode:multiply"/>
<line x1="0" y1="529.5" x2="110" y2="529.5" stroke="#c4c4c4" stroke-width="1" stroke-dasharray="2.5 3" style="mix-blend-mode:multiply"/>
<line x1="857" y1="529.5" x2="960" y2="529.5" stroke="#c4c4c4" stroke-width="1" stroke-dasharray="2.5 3" style="mix-blend-mode:multiply"/>
</svg></body></html>
